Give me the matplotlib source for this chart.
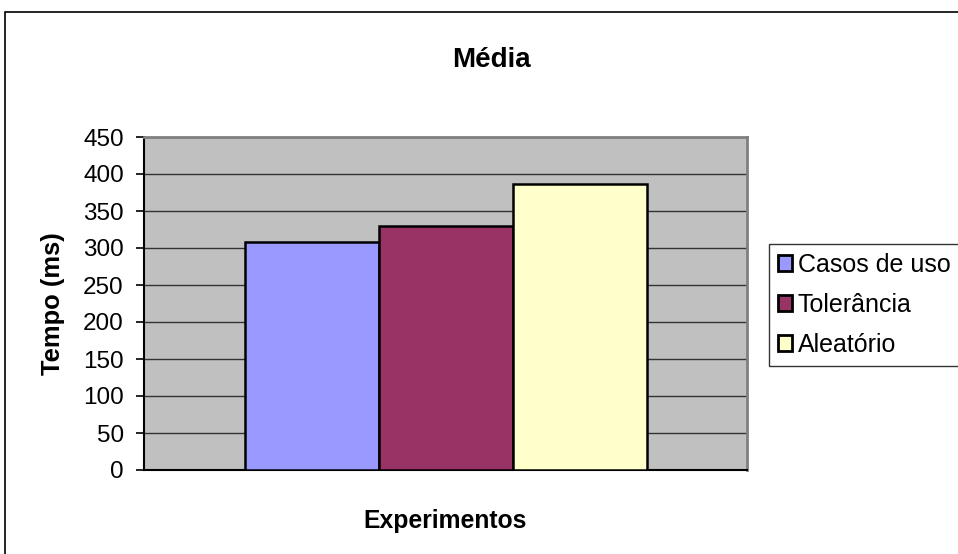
import matplotlib.pyplot as plt
from matplotlib.patches import Rectangle

# data
series = ['Casos de uso', 'Tolerância', 'Aleatório']
valores = [308, 330, 386]
cores = ['#9999FF', '#993366', '#FFFFCC']

plt.rcParams['font.family'] = ['Liberation Sans', 'DejaVu Sans']

fig = plt.figure(figsize=(9.58, 5.54), dpi=100)
ax = fig.add_axes([144 / 958, 1 - 470 / 554, 603 / 958, 333 / 554])

# outer chart frame (runs off the right and bottom edges)
fig.patches.append(Rectangle((5 / 958, -0.05), 1.0, 1 - 12 / 554 + 0.05,
                             transform=fig.transFigure, fill=False,
                             edgecolor='black', linewidth=1.2))

ax.set_facecolor('#C0C0C0')
largura = 134 / 603
inicio = 0.5 - 1.5 * largura
for i, (nome, v, c) in enumerate(zip(series, valores, cores)):
    ax.bar(inicio + (i + 0.5) * largura, v, width=largura, color=c,
           edgecolor='black', linewidth=1.8, label=nome, zorder=3)

ax.set_xlim(0, 1)
ax.set_ylim(0, 450)
ax.set_yticks(range(0, 451, 50))
ax.set_xticks([])
ax.yaxis.grid(True, color='#333333', linewidth=1, zorder=1)
ax.tick_params(axis='y', labelsize=17.5, length=5.5, width=1.2,
               direction='out', pad=9)

ax.spines['top'].set_color('#808080')
ax.spines['right'].set_color('#808080')
ax.spines['top'].set_linewidth(2)
ax.spines['right'].set_linewidth(2)
ax.spines['left'].set_linewidth(1.5)
ax.spines['bottom'].set_linewidth(1.5)

fig.text(491 / 958, 1 - 67 / 554, 'Média', ha='center', va='baseline',
         fontsize=20, fontweight='bold')
fig.text(53 / 958, 1 - 304 / 554, 'Tempo (ms)', ha='center', va='center',
         rotation=90, fontsize=18.4, fontweight='bold')
fig.text(445 / 958, 1 - 528 / 554, 'Experimentos', ha='center', va='baseline',
         fontsize=17.8, fontweight='bold')

leg = fig.legend(loc='upper left', bbox_to_anchor=(769 / 958, 1 - 244 / 554),
                 fontsize=18, frameon=True, fancybox=False, borderpad=0.35,
                 handlelength=0.56, handleheight=0.56, handletextpad=0.24,
                 labelspacing=0.64, borderaxespad=0)
leg.get_frame().set_edgecolor('black')
leg.get_frame().set_linewidth(1)
for h in leg.legend_handles:
    h.set_linewidth(2)

fig.savefig('out.png', dpi=100)
